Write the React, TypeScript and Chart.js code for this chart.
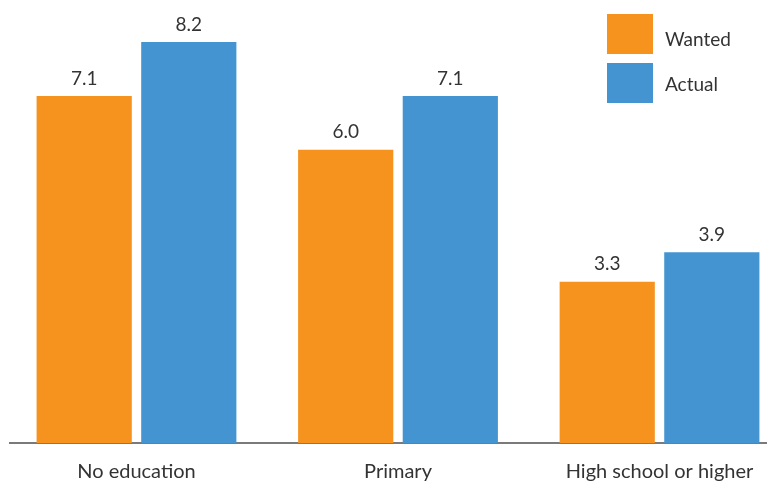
import React, { useEffect, useRef } from "react";
import { Chart, registerables } from "chart.js";

Chart.register(...registerables);

const categories = ["No education", "Primary", "High school or higher"];
const wanted = [7.1, 6.0, 3.3];
const actual = [8.2, 7.1, 3.9];
const seriesNames = ["Wanted", "Actual"];
const colors = ["#F6921E", "#4394D1"];

const FONT = "Lato, 'Open Sans', sans-serif";

const valueLabels = {
  id: "valueLabels",
  afterDatasetsDraw(chart: any) {
    const ctx = chart.ctx;
    ctx.save();
    ctx.font = `19px ${FONT}`;
    ctx.fillStyle = "#333";
    ctx.textAlign = "center";
    ctx.textBaseline = "bottom";
    chart.data.datasets.forEach((ds: any, i: number) => {
      const meta = chart.getDatasetMeta(i);
      meta.data.forEach((bar: any, j: number) => {
        const v = ds.data[j].y;
        ctx.fillText(v.toFixed(1), bar.x, bar.y - 8);
      });
    });
    ctx.restore();
  },
};

const boxLegend = {
  id: "boxLegend",
  afterDraw(chart: any) {
    const ctx = chart.ctx;
    ctx.save();
    const x = 607;
    const tops = [14, 63];
    seriesNames.forEach((name, i) => {
      ctx.fillStyle = colors[i];
      ctx.fillRect(x, tops[i], 46, 40);
      ctx.fillStyle = "#333";
      ctx.font = `19px ${FONT}`;
      ctx.textAlign = "left";
      ctx.textBaseline = "middle";
      ctx.fillText(name, 665, tops[i] + 26 - i * 4);
    });
    ctx.restore();
  },
};

export default function App() {
  const ref = useRef<HTMLCanvasElement>(null);
  useEffect(() => {
    const chart = new Chart(ref.current!, {
      type: "bar",
      data: {
        datasets: [
          {
            label: seriesNames[0],
            data: wanted.map((y, i) => ({ x: i, y })),
            backgroundColor: colors[0],
            borderWidth: 0,
            categoryPercentage: 0.8,
            barPercentage: 0.91,
          } as any,
          {
            label: seriesNames[1],
            data: actual.map((y, i) => ({ x: i, y })),
            backgroundColor: colors[1],
            borderWidth: 0,
            categoryPercentage: 0.8,
            barPercentage: 0.91,
          } as any,
        ],
      },
      options: {
        animation: false,
        responsive: false,
        layout: { padding: { top: 3, left: 10, right: 0, bottom: 0 } },
        plugins: { legend: { display: false }, tooltip: { enabled: false } },
        scales: {
          x: {
            type: "linear",
            offset: false,
            bounds: "data",
            min: -0.4837,
            max: 2.411,
            grid: { display: false, drawTicks: false, offset: false },
            border: { display: true, color: "#7a7a7a", width: 2 },
            afterBuildTicks: (scale: any) => {
              scale.ticks = categories.map((_, i) => ({ value: i }));
            },
            afterFit: (scale: any) => {
              scale.height = 39;
              scale.paddingLeft = 0;
              scale.paddingRight = 0;
            },
            ticks: {
              padding: 17,
              autoSkip: false,
              maxRotation: 0,
              color: "#333",
              font: { family: FONT, size: 20 },
              callback: (v: any) => categories[v] ?? "",
            },
          },
          y: {
            display: false,
            min: 0,
            max: 9,
          },
        },
      },
      plugins: [valueLabels, boxLegend],
    });
    return () => chart.destroy();
  }, []);
  return (
    <div style={{ position: "absolute", left: 0, top: 0, width: 767, height: 482 }}>
      <canvas ref={ref} width={767} height={482} style={{ width: 767, height: 482 }} />
    </div>
  );
}
